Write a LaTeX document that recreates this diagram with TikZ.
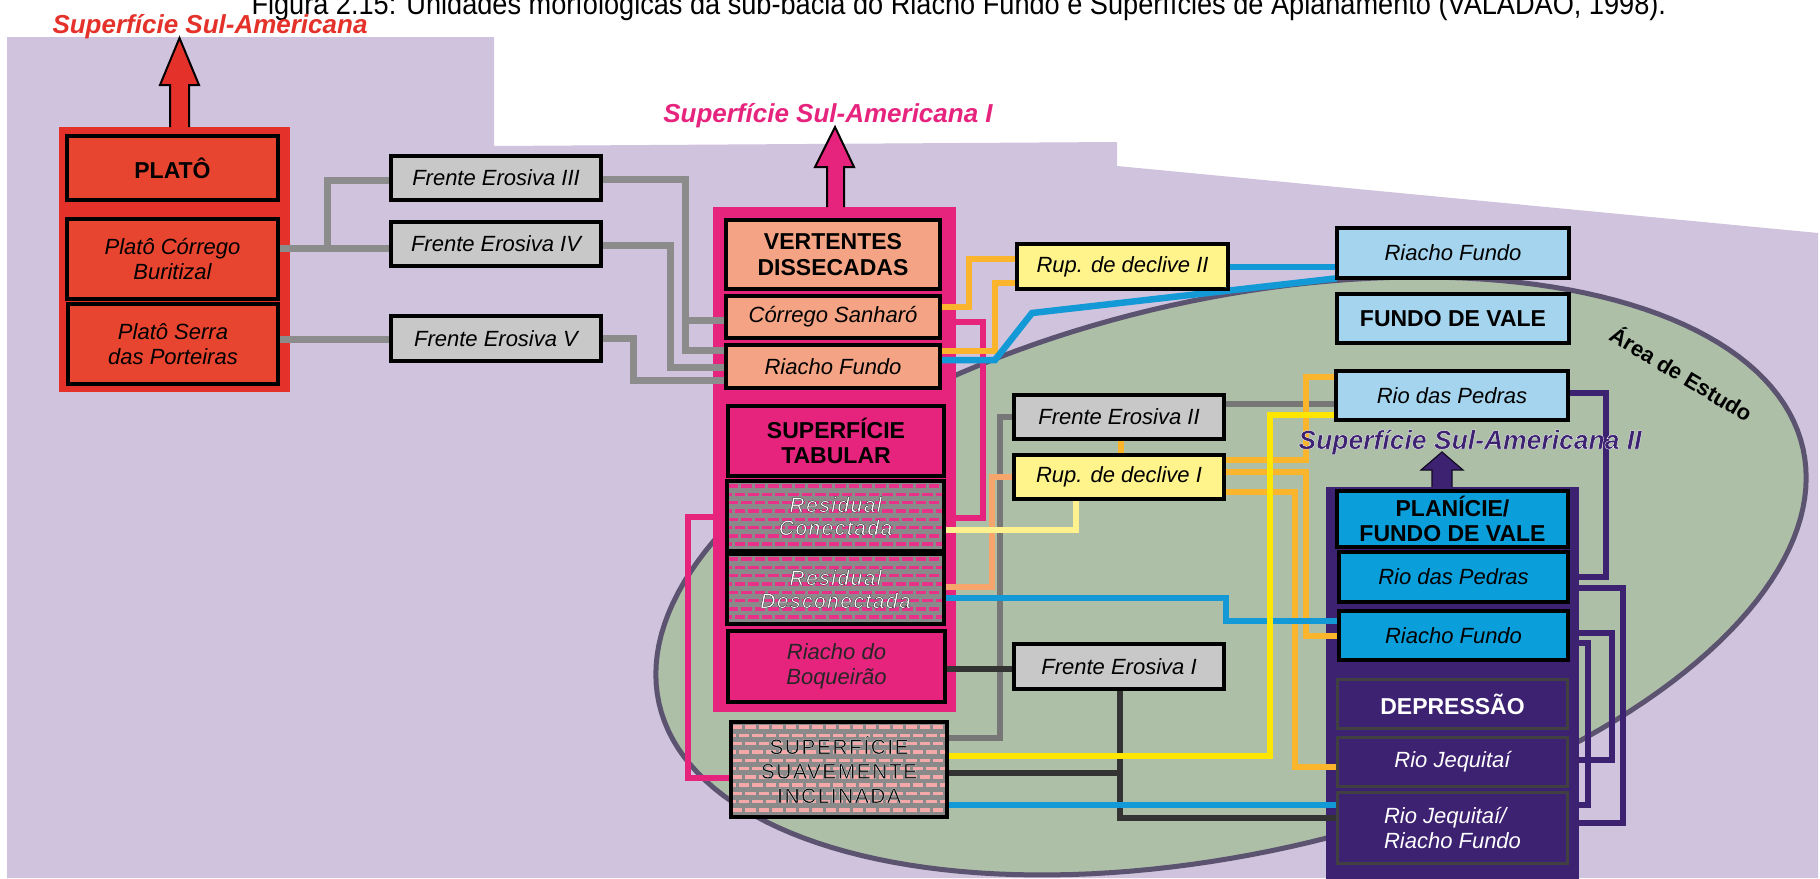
\documentclass[tikz,border=0pt]{standalone}
\usepackage{fontspec}
\setmainfont{Liberation Sans}
\newfontfamily\outsp[FakeBold=1.1,LetterSpace=7]{Liberation Sans}
\newfontfamily\capf[FakeStretch=0.905]{Liberation Sans}
\newfontfamily\ssaii[FakeBold=1.3]{Liberation Sans}
\newcommand\strokeK{\special{pdf:literal direct 0 0 0 RG}}
\newcommand\strokeW{\special{pdf:literal direct 1 1 1 RG}}
\definecolor{lav}{HTML}{CFC3DE}
\definecolor{sage}{HTML}{ADBFA7}
\definecolor{ellline}{HTML}{5B5370}
\definecolor{redA}{HTML}{E4312A}
\definecolor{redB}{HTML}{E84530}
\definecolor{pinkA}{HTML}{E6247E}
\definecolor{salmon}{HTML}{F4A484}
\definecolor{feGray}{HTML}{C8C8C8}
\definecolor{rupY}{HTML}{FFF48C}
\definecolor{ltBlue}{HTML}{A5D5EE}
\definecolor{mdBlue}{HTML}{0A9EDB}
\definecolor{purp}{HTML}{3D2272}
\definecolor{lnGray}{HTML}{8C8C8C}
\definecolor{lnGrayB}{HTML}{777777}
\definecolor{lnDark}{HTML}{333333}
\definecolor{lnOrange}{HTML}{FBB52C}
\definecolor{lnSalmon}{HTML}{F6A56C}
\definecolor{lnLtYel}{HTML}{FFF28E}
\definecolor{lnYel}{HTML}{FFE600}
\definecolor{lnBlue}{HTML}{139AD6}
\definecolor{brickGray}{HTML}{8A8A8A}
\definecolor{brickPink}{HTML}{E8328A}
\definecolor{brickLt}{HTML}{F4A8A8}
\definecolor{nearK}{HTML}{0A0A0A}
\tikzset{
  bx/.style={draw=black,line width=2.6pt,inner sep=0pt,align=center,text=black},
  itx/.style={font=\fontsize{22}{25}\selectfont\itshape},
  hdx/.style={font=\fontsize{23}{25.5}\selectfont\bfseries},
  ln/.style={line width=6.5pt},
  lnw/.style={line width=7pt},
}
\newcommand\bx[7]{\node[#1,minimum width={#5-#3},minimum height={#6-#4}] (#2) at ({(#3+#5)/2},{(#4+#6)/2}) {#7};}
\newcommand\bricks[5]{%
  \fill[brickGray] (#1,#2) rectangle (#3,#4);
  \begin{scope}
    \clip (#1,#2) rectangle (#3,#4);
    \foreach \k in {0,...,12}{
      \pgfmathsetmacro\yy{#2+4+8.3*\k}
      \pgfmathsetlengthmacro\ph{mod(\k,2)*6.7}
      \draw[#5,line width=3.4pt,dash pattern=on 10.4pt off 3pt,dash phase=\ph] (#1,\yy) -- (#3,\yy);
    }
  \end{scope}}
\begin{document}
\begin{tikzpicture}[x=1pt,y=-1pt]
\useasboundingbox (0,0) rectangle (1820,878);
\fill[white] (0,0) rectangle (1820,878);
% background
\fill[lav] (7,37) -- (494,37) -- (494,146) -- (1117,142) -- (1117,166) -- (1818,233) -- (1818,878) -- (7,878) -- cycle;
% study area
\draw[line width=5pt,draw=ellline,fill=sage] plot[variable=\t,domain=0:358,samples=180] ({1231+572*cos(\t)+60.2*sin(\t)},{576-127.3*cos(\t)+270.5*sin(\t)}) -- cycle;
% columns
\fill[redA] (59,127) rectangle (290,392);
\fill[pinkA] (713,207) rectangle (956,712);
\fill[purp] (1326,487) rectangle (1579,880);
% arrows
\fill[redA] (170,128) -- (170,85) -- (160,85) -- (179.5,38) -- (199,85) -- (189,85) -- (189,128) -- cycle;
\draw[black,line width=2pt] (170,127) -- (170,85) -- (160,85) -- (179.5,38) -- (199,85) -- (189,85) -- (189,127);
\fill[pinkA] (827,208) -- (827,167) -- (815,167) -- (835,127) -- (854,167) -- (844,167) -- (844,208) -- cycle;
\draw[black,line width=2pt] (827,207) -- (827,167) -- (815,167) -- (835,127) -- (854,167) -- (844,167) -- (844,207);
\fill[purp] (1432,488) -- (1432,470) -- (1421,470) -- (1442,452) -- (1463,470) -- (1452,470) -- (1452,488) -- cycle;
\draw[black!70!purp,line width=1.2pt] (1432,487) -- (1432,470) -- (1421,470) -- (1442,452) -- (1463,470) -- (1452,470) -- (1452,487);
% ---------- boxes ----------
% red column
\bx{bx,fill=redB,hdx}{plato}{68}{137}{277}{199}{PLATÔ}
\bx{bx,fill=redB,itx}{buritizal}{68}{220}{277}{298}{Platô Córrego\\Buritizal}
\bx{bx,fill=redB,itx}{porteiras}{69}{305}{277}{383}{Platô Serra\\das Porteiras}
% frentes erosivas left
\bx{bx,fill=feGray,itx}{fe3}{392}{157}{600}{199}{Frente Erosiva III}
\bx{bx,fill=feGray,itx}{fe4}{392}{223}{600}{265}{Frente Erosiva IV}
\bx{bx,fill=feGray,itx}{fe5}{392}{317}{600}{360}{Frente Erosiva V}
% pink column
\bx{bx,fill=salmon,hdx}{vd}{727}{221}{939}{288}{VERTENTES\\DISSECADAS}
\bx{bx,fill=salmon,itx}{sanharo}{727}{297}{939}{337}{Córrego Sanharó}
\bx{bx,fill=salmon,itx}{rfvd}{727}{346}{939}{387}{Riacho Fundo}
\bx{bx,fill=pinkA,hdx}{tab}{729}{407}{943}{475}{SUPERFÍCIE\\TABULAR}
\bx{bx,fill=pinkA,itx,text=black!85}{boq}{729}{632}{944}{701}{Riacho do\\Boqueirão}
% middle
\bx{bx,fill=rupY,itx}{rup2}{1018}{245}{1227}{288}{Rup. de declive II}
\bx{bx,fill=feGray,itx}{fe2}{1015}{396}{1223}{438}{Frente Erosiva II}
\bx{bx,fill=rupY,itx}{rup1}{1015}{456}{1223}{498}{Rup. de declive I}
\bx{bx,fill=feGray,itx}{fe1}{1015}{645}{1223}{688}{Frente Erosiva I}
% right light blue
\bx{bx,fill=ltBlue,itx}{rfl}{1338}{229}{1568}{277}{Riacho Fundo}
\bx{bx,fill=ltBlue,hdx}{fdv}{1338}{295}{1568}{342}{FUNDO DE VALE}
\bx{bx,fill=ltBlue,itx}{rpl}{1337}{372}{1567}{419}{Rio das Pedras}
% purple column
\bx{bx,fill=mdBlue,hdx}{plan}{1338}{492}{1567}{546}{PLANÍCIE/\\FUNDO DE VALE}
\bx{bx,fill=mdBlue,itx}{rpb}{1340}{553}{1567}{601}{Rio das Pedras}
\bx{bx,fill=mdBlue,itx}{rfb}{1340}{612}{1567}{659}{Riacho Fundo}
\bx{bx,fill=purp,hdx,draw=black!75,line width=2pt,text=white}{dep}{1338}{680}{1567}{728}{DEPRESSÃO}
\bx{bx,fill=purp,itx,draw=black!75,line width=2pt,text=white}{rj}{1338}{738}{1567}{786}{Rio Jequitaí}
\bx{bx,fill=purp,itx,draw=black!75,line width=2pt,text=white,align=left}{rjrf}{1338}{793}{1567}{863}{Rio Jequitaí/\\Riacho Fundo}
% brick boxes
\bricks{728}{482}{943}{550}{brickPink}
\bricks{728}{555}{943}{623}{brickPink}
\bricks{732}{723}{946}{816}{brickLt}
\bx{bx,font=\outsp\fontsize{21}{23}\selectfont\itshape,text=white}{rcon}{728}{482}{943}{550}{\strokeK Residual\\Conectada}
\bx{bx,font=\outsp\fontsize{21}{23}\selectfont\itshape,text=white}{rdes}{728}{555}{943}{623}{\strokeK Residual\\Desconectada}
\bx{bx,font=\outsp\fontsize{21}{24.5}\selectfont,text=nearK}{ssi}{732}{723}{946}{816}{\strokeW SUPERFÍCIE\\SUAVEMENTE\\INCLINADA}
% ---------- connectors ----------
% gray left
\draw[lnw,lnGray] (buritizal.east |- 0,248) -- (fe4.west |- 0,248);
\draw[lnw,lnGray] (buritizal.east |- 0,248) -- (327,248) -- (327,180) -- (fe3.west |- 0,180);
\draw[lnw,lnGray] (porteiras.east |- 0,339) -- (fe5.west |- 0,339);
\draw[lnw,lnGray] (fe3.east |- 0,179) -- (685,179) -- (685,320) -- (sanharo.west |- 0,320);
\draw[lnw,lnGray] (fe3.east |- 0,179) -- (685,179) -- (685,350) -- (rfvd.west |- 0,350);
\draw[lnw,lnGray] (fe4.east |- 0,245) -- (670,245) -- (670,367) -- (rfvd.west |- 0,367);
\draw[lnw,lnGray] (fe5.east |- 0,338) -- (633,338) -- (633,380) -- (rfvd.west |- 0,380);
% pink
\draw[ln,pinkA] (sanharo.east |- 0,322) -- (983,322) -- (983,518) -- (rcon.east |- 0,518);
\draw[ln,pinkA] (rcon.west |- 0,517) -- (688,517) -- (688,778) -- (ssi.west |- 0,778);
% gray middle
\draw[ln,lnGrayB] (fe2.east |- 0,404) -- (rpl.west |- 0,404);
\draw[ln,lnGrayB] (fe2.west |- 0,417) -- (1000,417) -- (1000,738) -- (ssi.east |- 0,738);
% dark
\draw[ln,lnDark] (boq.east |- 0,669) -- (fe1.west |- 0,669);
\draw[ln,lnDark] (fe1.south -| 1120,0) -- (1120,818) -- (rjrf.west |- 0,818);
\draw[ln,lnDark] (ssi.east |- 0,773) -- (1120,773) -- (fe1.south -| 1120,0);
% salmon and light yellow
\draw[ln,lnSalmon] (rup1.west |- 0,477) -- (992,477) -- (992,587) -- (rdes.east |- 0,587);
\draw[ln,lnLtYel] (rup1.south -| 1076,0) -- (1076,530) -- (rcon.east |- 0,530);
% orange
\draw[ln,lnOrange] (sanharo.east |- 0,307) -- (969,307) -- (969,259) -- (rup2.west |- 0,259);
\draw[ln,lnOrange] (rfvd.east |- 0,351) -- (995,351) -- (995,283) -- (rup2.west |- 0,283);
\draw[ln,lnOrange] (fe2.south -| 1121,0) -- (rup1.north -| 1121,0);
\draw[ln,lnOrange] (rup1.east |- 0,460) -- (1306,460) -- (1306,377) -- (rpl.west |- 0,377);
\draw[ln,lnOrange] (rup1.east |- 0,472) -- (1306,472) -- (1306,636) -- (rfb.west |- 0,636);
\draw[ln,lnOrange] (rup1.east |- 0,492) -- (1295,492) -- (1295,767) -- (rj.west |- 0,767);
% blue
\draw[ln,lnBlue] (rup2.east |- 0,267) -- (rfl.west |- 0,267);
\draw[ln,lnBlue] (rfvd.east |- 0,360) -- (995,360) -- (1032,313) -- (rfl.south west);
\draw[ln,lnBlue] (rdes.east |- 0,598) -- (1226,598) -- (1226,621) -- (rfb.west |- 0,621);
\draw[ln,lnBlue] (ssi.east |- 0,805) -- (rjrf.west |- 0,805);
% yellow
\draw[ln,lnYel] (ssi.east |- 0,756) -- (1270,756) -- (1270,415) -- (rpl.west |- 0,415);
% purple
\draw[ln,purp] (rpl.east |- 0,393) -- (1606,393) -- (1606,577) -- (rpb.east |- 0,577);
\draw[ln,purp] (rpb.east |- 0,588) -- (1623,588) -- (1623,823) -- (rjrf.east |- 0,823);
\draw[ln,purp] (rfb.east |- 0,633) -- (1612,633) -- (1612,760) -- (rj.east |- 0,760);
\draw[ln,purp] (rfb.east |- 0,643) -- (1588,643) -- (1588,805) -- (rjrf.east |- 0,805);
% redraw box borders over line ends
\foreach \n in {plato,buritizal,porteiras,fe3,fe4,fe5,vd,sanharo,rfvd,tab,boq,rup2,fe2,rup1,fe1,rfl,fdv,rpl,plan,rpb,rfb,rcon,rdes,ssi}{
  \draw[black,line width=2.6pt] (\n.south west) rectangle (\n.north east);
}
\foreach \n in {dep,rj,rjrf}{
  \draw[black!75,line width=2pt] (\n.south west) rectangle (\n.north east);
}
% titles
\node[anchor=base west,font=\capf\fontsize{30}{34}\selectfont] (cap) at (248,14) {Figura 2.15: Unidades morfológicas da sub-bacia do Riacho Fundo e Superfícies de Aplanamento (VALADÃO, 1998).};
\node[anchor=base,font=\fontsize{26}{30}\selectfont\bfseries\itshape,text=redA] (t1) at (210,33) {Superfície Sul-Americana};
\node[anchor=base,font=\fontsize{26}{30}\selectfont\bfseries\itshape,text=pinkA] (t2) at (828,122) {Superfície Sul-Americana I};
\node[anchor=base,font=\ssaii\fontsize{26.5}{30}\selectfont\bfseries\itshape,text=purp] (t3) at (1470,449) {\strokeW Superfície Sul-Americana II};
\node[rotate=-31,font=\fontsize{22}{26}\selectfont\bfseries] (area) at (1682,373) {Área de Estudo};
\end{tikzpicture}
\end{document}
